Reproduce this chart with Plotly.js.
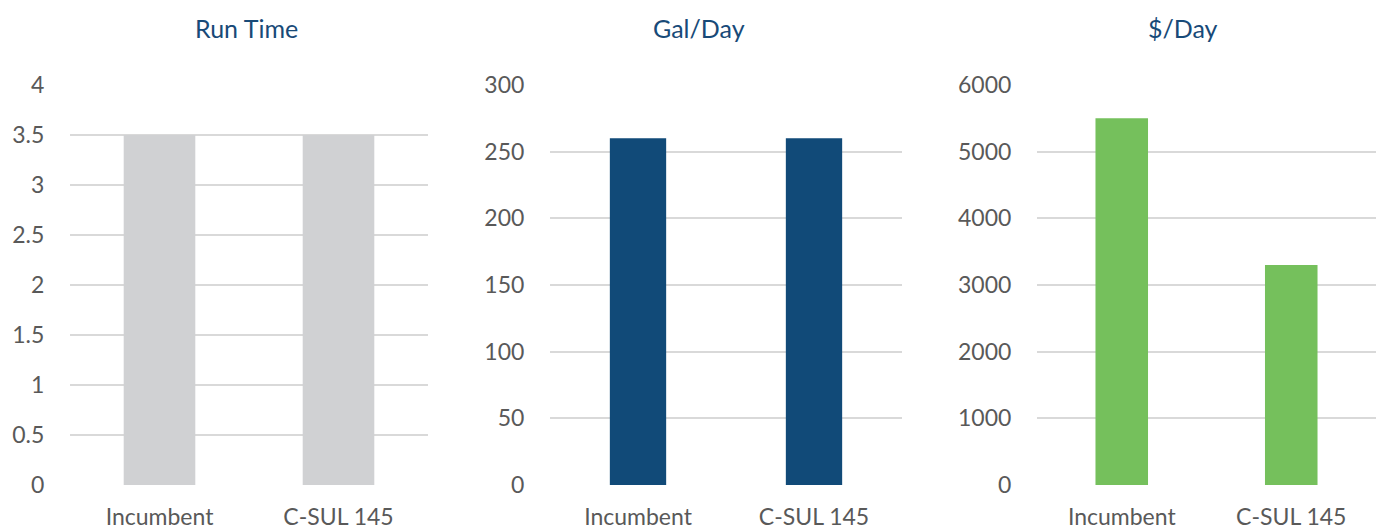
<!DOCTYPE html>
<html><head><meta charset="utf-8">
<script src="https://cdn.plot.ly/plotly-3.0.1.min.js"></script>
<style>html,body{margin:0;padding:0;background:#fff;}#chart{width:1377px;height:529px;}</style>
</head><body><div id="chart"></div>
<script>
const categories = ["Incumbent", "C-SUL 145"];
const runTime = [3.5, 3.5];
const galPerDay = [260, 260];
const dollarsPerDay = [5500, 3300];
const titles = ["Run Time", "Gal/Day", "$/Day"];

const W = 1377, H = 529;
const px = v => v / W;
const py = v => (H - v) / H;
const FONT = "Lato, 'Open Sans', sans-serif";
const tickFont = {family: FONT, size: 23, color: "#595959"};

const traces = [
  {type: "bar", x: categories, y: runTime, xaxis: "x", yaxis: "y", marker: {color: "#d0d1d3"}, width: 0.4, hoverinfo: "none"},
  {type: "bar", x: categories, y: galPerDay, xaxis: "x2", yaxis: "y2", marker: {color: "#114a78"}, width: 0.32, hoverinfo: "none"},
  {type: "bar", x: categories, y: dollarsPerDay, xaxis: "x3", yaxis: "y3", marker: {color: "#75c05c"}, width: 0.31, hoverinfo: "none"}
];

function xax(d0, d1, anchor) {
  return {domain: [px(d0), px(d1)], anchor: anchor, type: "category", showgrid: false, zeroline: false,
    showline: false, ticks: "outside", ticklen: 11, tickcolor: "rgba(0,0,0,0)", tickfont: tickFont, fixedrange: true};
}
function yax(anchor, range, dtick) {
  return {domain: [py(485), py(85)], anchor: anchor, range: range, dtick: dtick, tick0: 0, showgrid: true,
    gridcolor: "#d9d9d9", gridwidth: 2, zeroline: false, showline: false, ticks: "outside", ticklen: 20,
    tickcolor: "rgba(0,0,0,0)", tickfont: tickFont, fixedrange: true};
}

const layout = {
  width: W, height: H, margin: {l: 0, r: 0, t: 0, b: 0}, showlegend: false,
  paper_bgcolor: "#ffffff", plot_bgcolor: "#ffffff", bargap: 0.2,
  xaxis: xax(70, 428, "y"), yaxis: yax("x", [0, 4], 0.5),
  xaxis2: xax(550, 902, "y2"), yaxis2: yax("x2", [0, 300], 50),
  xaxis3: xax(1037, 1376, "y3"), yaxis3: yax("x3", [0, 6000], 1000),
  annotations: [
    {text: titles[0], x: px(246), y: py(28)},
    {text: titles[1], x: px(699), y: py(28)},
    {text: titles[2], x: px(1183), y: py(28)}
  ].map(a => Object.assign({xref: "paper", yref: "paper", xanchor: "center", yanchor: "middle", showarrow: false,
    font: {family: FONT, size: 25, color: "#184a78"}}, a))
};

Plotly.newPlot("chart", traces, layout, {staticPlot: true, displayModeBar: false});
</script></body></html>
